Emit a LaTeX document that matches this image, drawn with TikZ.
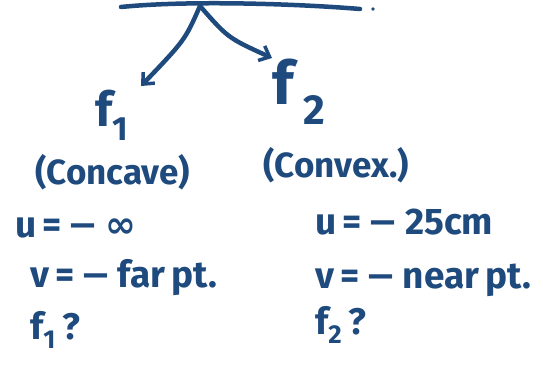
\documentclass[tikz,border=0pt]{standalone}
\usepackage{fontspec}
\setmainfont{Fira Sans}
\newfontfamily\symf{DejaVu Sans}
\usetikzlibrary{arrows.meta}
\definecolor{ink}{RGB}{31,74,125}
\newcommand{\mn}{{\symf −}}
\newcommand{\infy}{{\symf ∞}}
\begin{document}
\begin{tikzpicture}[x=1pt,y=-1pt,
  pen/.style={draw=ink,line width=4.5pt,line cap=round},
  arr/.style={pen,-{Straight Barb[length=9pt,width=16pt,line width=3.5pt]}},
  hw/.style={text=ink,inner sep=0pt,anchor=west,font=\fontsize{37}{40}\selectfont\bfseries}]
\useasboundingbox (0,0) rectangle (543,365);
\draw[pen] (121,7) .. controls (190,0) and (300,4) .. (360,9);
\fill[ink] (373,9) circle (1.8pt);
\coordinate (top) at (200,6);
\node[hw,font=\fontsize{48}{50}\selectfont\bfseries] (f1) at (95,115) {f\textsubscript{1}};
\node[hw,font=\fontsize{60}{62}\selectfont\bfseries] (f2) at (272,92) {f\,\textsubscript{2}};
\coordinate (a1) at (141,86);
\coordinate (a2) at (272,58);
\draw[arr] (top) .. controls (185,40) .. (a1);
\draw[arr] (top) .. controls (228,38) .. (a2);
\node[hw,font=\fontsize{35}{40}\selectfont\bfseries] (cc) at (35,172) {(Concave)};
\node[hw,font=\fontsize{35}{40}\selectfont\bfseries] (cx) at (263,165) {(Convex.)};
\node[hw] (u1) at (15,228) {u\,=\,\mn\,\infy};
\node[hw] (v1) at (30,278) {v\,=\,\mn\,far\,pt.};
\node[hw] (q1) at (30,330) {f\textsubscript{1}\,?};
\node[hw] (u2) at (315,222) {u\,=\,\mn\,25cm};
\node[hw] (v2) at (315,280) {v\,=\,\mn\,near\,pt.};
\node[hw] (q2) at (315,325) {f\textsubscript{2}\,?};
\end{tikzpicture}
\end{document}
